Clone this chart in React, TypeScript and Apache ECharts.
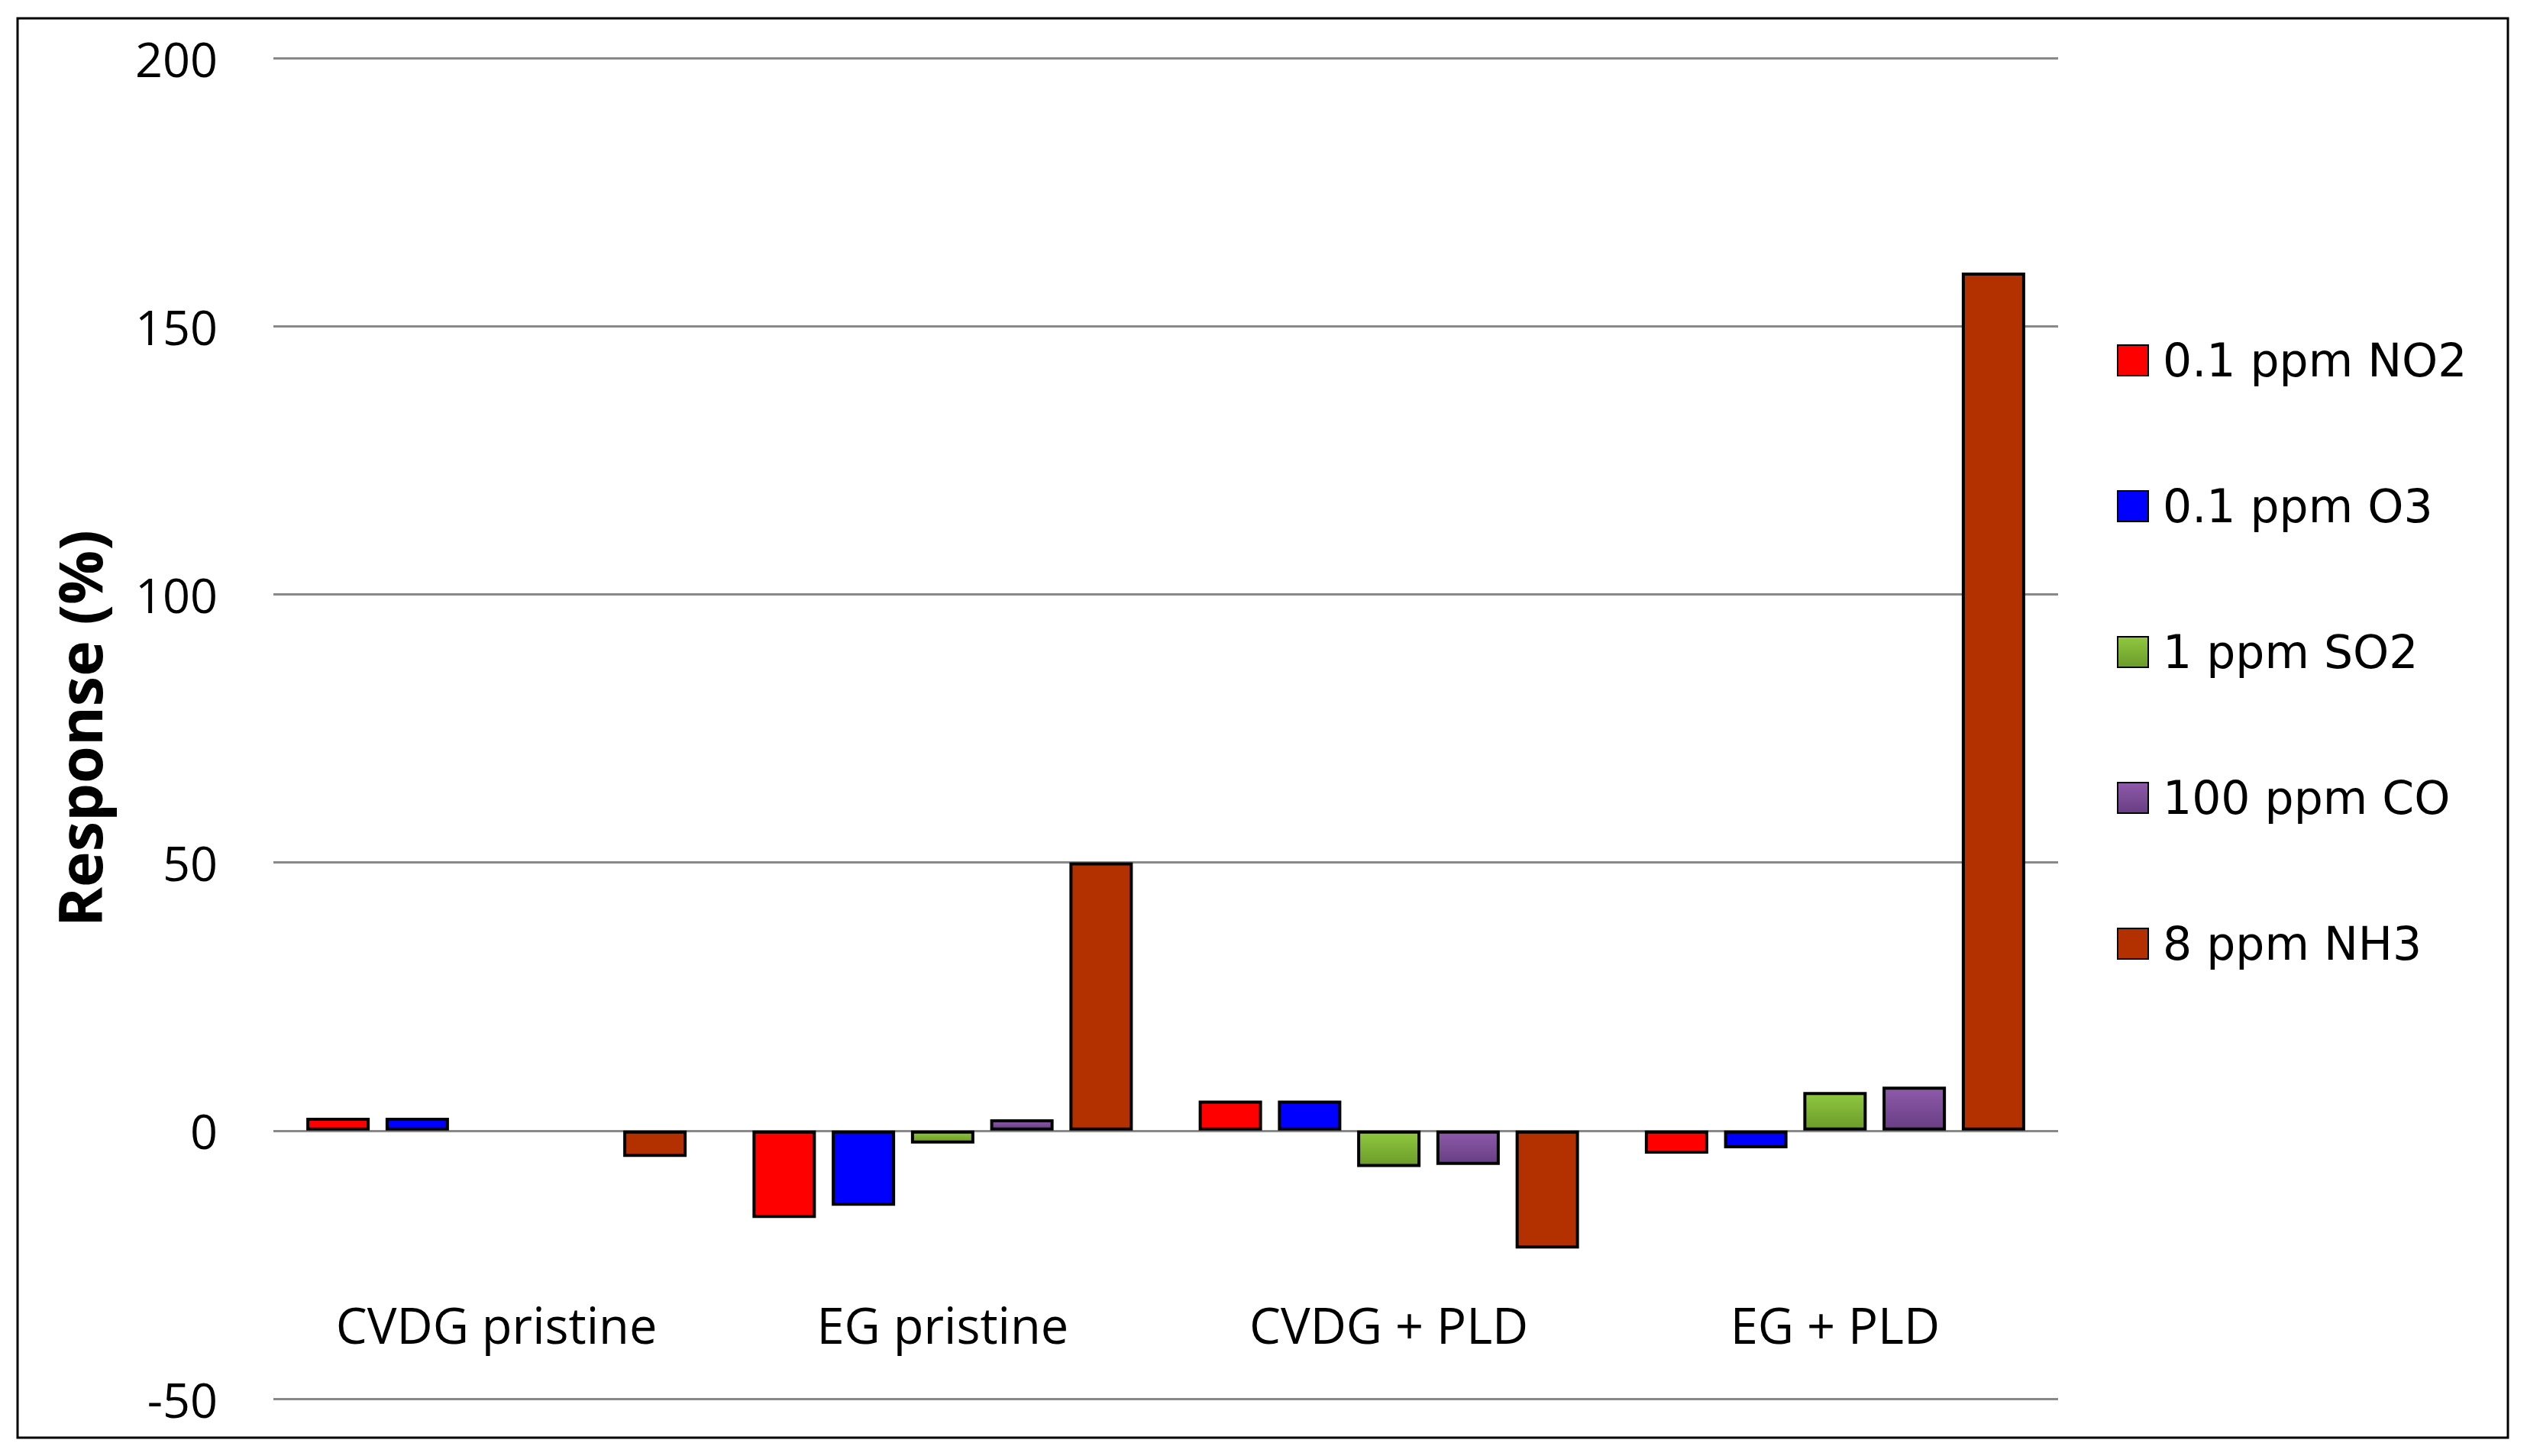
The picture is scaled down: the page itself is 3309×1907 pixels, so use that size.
import React, { useEffect, useRef } from 'react';
import * as echarts from 'echarts';

const categories = ['CVDG pristine', 'EG pristine', 'CVDG + PLD', 'EG + PLD'];
const seriesNames = ['0.1 ppm NO2', '0.1 ppm O3', '1 ppm SO2', '100 ppm CO', '8 ppm NH3'];
const no2 = [2.4, -16.3, 5.6, -4.3];
const o3 = [2.4, -14.0, 5.6, -3.3];
const so2 = [null, -2.4, -6.8, 7.2];
const co = [null, 2.1, -6.4, 8.2];
const nh3 = [-4.9, 50, -22.0, 160];
const yMin = -50;
const yMax = 200;
const yStep = 50;

const green = new echarts.graphic.LinearGradient(0, 0, 0, 1, [
  { offset: 0, color: '#8fc83f' },
  { offset: 1, color: '#6b9b2a' },
]);
const purple = new echarts.graphic.LinearGradient(0, 0, 0, 1, [
  { offset: 0, color: '#8e5aaa' },
  { offset: 1, color: '#683e84' },
]);
const colors: any[] = ['#ff0000', '#0000ff', green, purple, '#b33000'];
const values = [no2, o3, so2, co, nh3];

export default function App() {
  const ref = useRef<HTMLDivElement>(null);
  useEffect(() => {
    const chart = echarts.init(ref.current!, null, { renderer: 'svg' });
    chart.setOption({
      animation: false,
      backgroundColor: '#ffffff',
      graphic: [
        {
          type: 'rect',
          shape: { x: 23, y: 24, width: 3261, height: 1859 },
          style: { fill: 'none', stroke: '#000', lineWidth: 3 },
          z: 100,
        },
      ],
      grid: { left: 358, right: 614, top: 76, bottom: 75, containLabel: false },
      legend: {
        orient: 'vertical',
        left: 2767,
        top: 437,
        itemWidth: 40,
        itemHeight: 40,
        itemGap: 131,
        icon: 'rect',
        data: seriesNames,
        textStyle: {
          fontSize: 60,
          fontFamily: 'DejaVu Sans',
          color: '#000',
          lineHeight: 60,
          padding: [0, 0, 0, 14],
        },
      },
      xAxis: {
        type: 'category',
        data: categories,
        axisLine: { show: false },
        axisTick: { show: false },
        axisLabel: {
          fontSize: 65,
          fontFamily: 'Open Sans',
          color: '#000',
          margin: -97,
          verticalAlign: 'middle',
        },
      },
      yAxis: {
        type: 'value',
        min: yMin,
        max: yMax,
        interval: yStep,
        name: 'Response (%)',
        nameLocation: 'middle',
        nameGap: 215,
        nameTextStyle: {
          fontSize: 79,
          fontWeight: 'bold',
          fontFamily: 'Open Sans',
          color: '#000',
        },
        axisLine: { show: false },
        axisTick: { show: false },
        axisLabel: {
          fontSize: 63,
          fontFamily: 'Open Sans',
          color: '#000',
          margin: 73,
        },
        splitLine: { lineStyle: { color: '#898989', width: 3 } },
      },
      series: seriesNames.map((name, i) => ({
        name,
        type: 'bar',
        data: values[i],
        barWidth: 83,
        barGap: '25%',
        itemStyle: { color: colors[i], borderColor: '#000', borderWidth: 4 },
      })),
    });
    return () => chart.dispose();
  }, []);
  return (
    <div
      ref={ref}
      style={{ position: 'absolute', left: 0, top: 0, width: 3309, height: 1907 }}
    />
  );
}
